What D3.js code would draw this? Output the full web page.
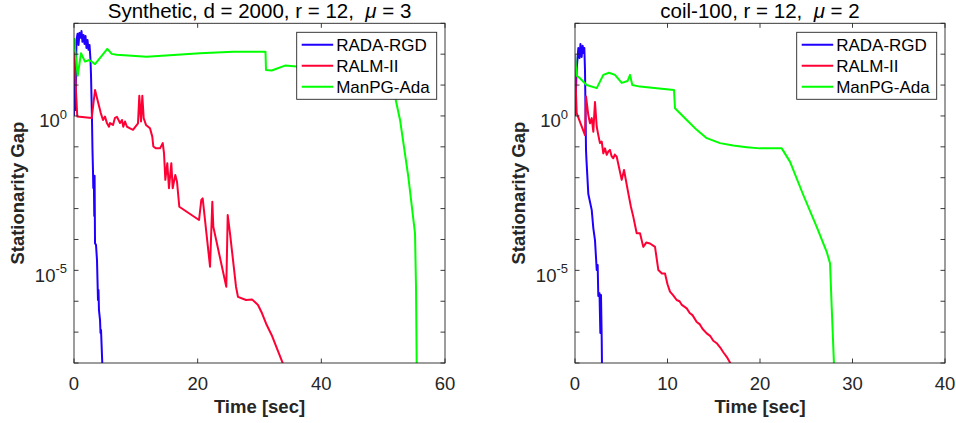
<!DOCTYPE html>
<html>
<head>
<meta charset="utf-8">
<script src="https://cdn.jsdelivr.net/npm/d3@7"></script>
<style>
  body { margin: 0; background: #fff; }
  svg { font-family: "Liberation Sans", Arial, sans-serif; }
</style>
</head>
<body>
<div id="chart"></div>
<script>
// series names / colours
const seriesNames = ["RADA-RGD", "RALM-II", "ManPG-Ada"];
const seriesColors = ['#1f00ff', '#ff0035', '#00ff00'];

// [time (sec), log10 stationarity gap]
// --- panel 1 : Synthetic
const synthRada = [[0,0],[0.16,1.81],[0.24,0.19],[0.40,2.46],[0.57,2.66],[0.73,2.30],[0.89,2.69],[1.05,2.53],
  [1.21,2.75],[1.37,2.40],[1.54,2.62],[1.70,2.33],[1.86,2.59],[2.02,2.20],[2.18,2.46],[2.35,2.14],[2.51,2.30],
  [2.67,1.81],[2.75,1.33],[2.91,-0.13],[2.99,-1.10],[3.07,-1.75],[3.12,-2.33],[3.20,-1.94],[3.28,-3.24],
  [3.33,-1.94],[3.40,-4.12],[3.56,-4.18],[3.72,-4.67],[3.80,-5.31],[3.88,-5.96],[3.96,-5.64],[4.04,-6.29],
  [4.21,-6.61],[4.29,-7.03],[4.37,-6.93],[4.61,-8.2]];
const synthRalm = [[0,2.08],[0.53,-0.02],[2.86,-0.07],[3.40,0.84],[4.21,0.19],[4.32,0.10],[4.69,-0.13],[5.01,-0.02],
  [5.34,-0.24],[5.66,-0.35],[5.82,-0.23],[6.31,-0.29],[6.63,-0.06],[6.95,-0.03],[7.44,-0.23],[7.76,-0.13],
  [7.97,-0.35],[8.25,-0.18],[8.57,-0.35],[9.06,-0.40],[9.54,-0.45],[10.35,-0.24],[10.56,0.65],[10.84,-0.18],
  [11.05,0.65],[11.27,-0.07],[11.64,-0.29],[12.29,-0.40],[12.66,-0.67],[12.83,-0.99],[13.26,-1.05],[13.91,-1.05],
  [14.35,-0.88],[14.56,-1.21],[14.77,-2.07],[15.09,-1.53],[15.36,-2.34],[15.74,-1.53],[15.96,-2.34],[16.38,-1.91],
  [16.66,-2.13],[17.03,-2.94],[20.22,-3.37],[20.59,-2.72],[20.81,-2.67],[22.00,-4.88],[22.37,-2.78],[22.53,-3.59],
  [24.63,-5.53],[24.86,-3.21],[25.23,-3.80],[26.20,-5.53],[26.52,-5.86],[27.82,-5.96],[28.79,-5.94],[29.76,-6.12],
  [30.41,-6.39],[31.17,-6.77],[31.98,-7.10],[33.04,-7.64],[33.95,-8.1]];
const synthManpg = [[0,2.52],[0.60,1.30],[1.13,2.03],[1.78,1.76],[2.47,1.81],[3.40,1.68],[5.39,2.17],[6.10,2.01],
  [6.91,1.98],[11.76,1.92],[20.38,2.03],[25.72,2.08],[30.97,2.08],[31.05,1.49],[31.97,1.47],[34.13,1.63],
  [36.02,1.60],[43.02,1.56],[49.49,1.33],[51.92,0.62],[52.73,-0.13],[54.07,-1.97],[55.15,-3.80],[55.31,-5.53],
  [55.43,-8.2]];

// --- panel 2 : coil-100
const coilRada = [[0,0],[0.18,1.49],[0.36,2.20],[0.49,1.88],[0.59,2.33],[0.72,1.91],[0.83,2.27],[0.92,2.04],
  [1.01,2.20],[1.08,1.49],[1.19,-1.10],[1.24,-1.43],[1.44,-2.53],[1.81,-3.05],[1.98,-3.63],[2.16,-4.02],
  [2.35,-4.99],[2.45,-4.83],[2.52,-5.83],[2.65,-5.74],[2.74,-7.03],[2.81,-5.80],[2.89,-7.26],[2.92,-8.2]];
const coilRalm = [[0,1.71],[0.18,0.09],[1.08,-0.62],[1.19,0.63],[1.44,0.03],[1.62,-0.24],[1.81,-0.07],[1.98,-0.51],
  [2.16,0.45],[2.35,-0.35],[2.52,-0.62],[2.70,-0.88],[2.89,-0.83],[3.06,-1.21],[3.24,-1.05],[3.43,-1.26],
  [3.60,-1.15],[3.78,-1.10],[3.95,-1.30],[4.14,-1.37],[4.30,-1.25],[4.51,-1.32],[5.05,-2.07],[5.30,-1.75],
  [5.76,-2.50],[6.05,-2.95],[6.30,-3.26],[6.67,-3.80],[7.03,-3.80],[7.38,-4.24],[7.70,-4.10],[8.11,-4.13],
  [8.65,-4.24],[9.01,-4.99],[9.40,-5.10],[9.73,-5.10],[10.0,-5.45],[10.27,-5.69],[10.60,-5.80],[10.99,-5.96],
  [11.30,-6.00],[11.55,-6.12],[12.08,-6.23],[12.40,-6.38],[12.70,-6.45],[13.16,-6.67],[13.50,-6.75],
  [13.80,-6.90],[14.24,-7.04],[14.60,-7.12],[14.95,-7.28],[15.32,-7.36],[15.70,-7.50],[16.05,-7.66],
  [16.40,-7.80],[16.98,-8.1]];
const coilManpg = [[0,1.98],[0.18,1.30],[0.54,1.22],[1.26,1.00],[2.35,0.90],[3.06,1.33],[3.68,1.40],[4.32,1.33],
  [5.05,1.07],[5.68,1.13],[5.95,1.33],[6.19,1.00],[7.03,0.95],[8.83,0.90],[10.70,0.84],[10.81,0.25],
  [12.08,-0.13],[13.16,-0.45],[14.24,-0.72],[15.68,-0.88],[17.10,-0.96],[18.56,-1.01],[20.00,-1.05],
  [22.35,-1.05],[23.24,-1.48],[24.68,-2.56],[26.13,-3.59],[27.21,-4.40],[27.57,-4.77],[27.75,-6.18],[28.02,-8.2]];

const synthXTicks = [0, 20, 40, 60];
const coilXTicks = [0, 10, 20, 30, 40];
const yDecades = [-8,-7,-6,-5,-4,-3,-2,-1,0,1,2,3];
const yLabelled = [0, -5];

const panels = [
  { title: "Synthetic, d = 2000, r = 12,", mu: "3", xmax: 60, xticks: synthXTicks,
    left: 74, right: 445, series: [synthRada, synthRalm, synthManpg] },
  { title: "coil-100, r = 12,", mu: "2", xmax: 40, xticks: coilXTicks,
    left: 575, right: 945, series: [coilRada, coilRalm, coilManpg] }
];

const W = 956, H = 423, plotTop = 23.3, plotBottom = 363;
const axisColor = '#262626';

const svg = d3.select('#chart').append('svg')
  .attr('width', W).attr('height', H);

panels.forEach(function(p, i) {
  const x = d3.scaleLinear().domain([0, p.xmax]).range([p.left, p.right]);
  const y = d3.scaleLog().domain([1e-8, 1e3]).range([plotBottom, plotTop]);
  const g = svg.append('g');

  g.append('clipPath').attr('id', 'clip' + i)
    .append('rect')
    .attr('x', p.left).attr('y', plotTop)
    .attr('width', p.right - p.left).attr('height', plotBottom - plotTop);

  // curves
  const line = d3.line()
    .x(function(d){ return x(d[0]); })
    .y(function(d){ return y(Math.pow(10, d[1])); });

  const curves = g.append('g').attr('clip-path', 'url(#clip' + i + ')');
  p.series.forEach(function(s, k) {
    curves.append('path')
      .datum(s)
      .attr('d', line)
      .attr('fill', 'none')
      .attr('stroke', seriesColors[k])
      .attr('stroke-width', 2)
      .attr('stroke-linejoin', 'round');
  });

  // box
  g.append('rect')
    .attr('x', p.left).attr('y', plotTop)
    .attr('width', p.right - p.left).attr('height', plotBottom - plotTop)
    .attr('fill', 'none').attr('stroke', axisColor).attr('stroke-width', 0.9);

  // x ticks
  p.xticks.forEach(function(t) {
    const px = x(t);
    g.append('line').attr('x1', px).attr('x2', px).attr('y1', plotBottom).attr('y2', plotBottom - 4.5)
      .attr('stroke', axisColor).attr('stroke-width', 0.9);
    g.append('line').attr('x1', px).attr('x2', px).attr('y1', plotTop).attr('y2', plotTop + 4.5)
      .attr('stroke', axisColor).attr('stroke-width', 0.9);
    g.append('text').attr('x', px).attr('y', 389.5)
      .attr('text-anchor', 'middle').attr('font-size', 18.5).attr('fill', axisColor)
      .text(t);
  });

  // y ticks
  yDecades.forEach(function(e) {
    const py = y(Math.pow(10, e));
    g.append('line').attr('x1', p.left).attr('x2', p.left + 4.5).attr('y1', py).attr('y2', py)
      .attr('stroke', axisColor).attr('stroke-width', 0.9);
    g.append('line').attr('x1', p.right).attr('x2', p.right - 4.5).attr('y1', py).attr('y2', py)
      .attr('stroke', axisColor).attr('stroke-width', 0.9);
    if (yLabelled.includes(e)) {
      const txt = g.append('text').attr('x', p.left - 7).attr('y', py + 11.5)
        .attr('text-anchor', 'end').attr('font-size', 18.5).attr('fill', axisColor);
      txt.append('tspan').text('10');
      txt.append('tspan').attr('font-size', 13).attr('dy', -8.5).text(e);
    }
  });

  // axis labels
  g.append('text')
    .attr('x', (p.left + p.right) / 2).attr('y', 412.5)
    .attr('text-anchor', 'middle').attr('font-size', 18.5).attr('font-weight', 'bold')
    .attr('fill', axisColor).text('Time [sec]');
  g.append('text')
    .attr('transform', 'translate(' + (p.left - 50) + ',' + ((plotTop + plotBottom) / 2) + ') rotate(-90)')
    .attr('text-anchor', 'middle').attr('font-size', 18.5).attr('font-weight', 'bold')
    .attr('fill', axisColor).text('Stationarity Gap');

  // title
  const tt = g.append('text')
    .attr('x', (p.left + p.right) / 2).attr('y', 17.5)
    .attr('text-anchor', 'middle').attr('font-size', 20.5).attr('fill', '#000');
  tt.append('tspan').text(p.title + '\u00a0\u00a0');
  tt.append('tspan').attr('font-style', 'italic').text('\u03bc');
  tt.append('tspan').text(' = ' + p.mu);

  // legend
  const lx = p.right - 148.3, ly = plotTop + 9;
  const lg = g.append('g');
  lg.append('rect').attr('x', lx).attr('y', ly).attr('width', 140).attr('height', 67)
    .attr('fill', '#fff').attr('stroke', axisColor).attr('stroke-width', 0.9);
  seriesNames.forEach(function(n, k) {
    const cy = ly + 12.5 + k * 21;
    lg.append('line').attr('x1', lx + 5).attr('x2', lx + 36.5).attr('y1', cy).attr('y2', cy)
      .attr('stroke', seriesColors[k]).attr('stroke-width', 2);
    lg.append('text').attr('x', lx + 39.5).attr('y', cy + 6)
      .attr('font-size', 17).attr('fill', '#000').text(n);
  });
});
</script>
</body>
</html>
